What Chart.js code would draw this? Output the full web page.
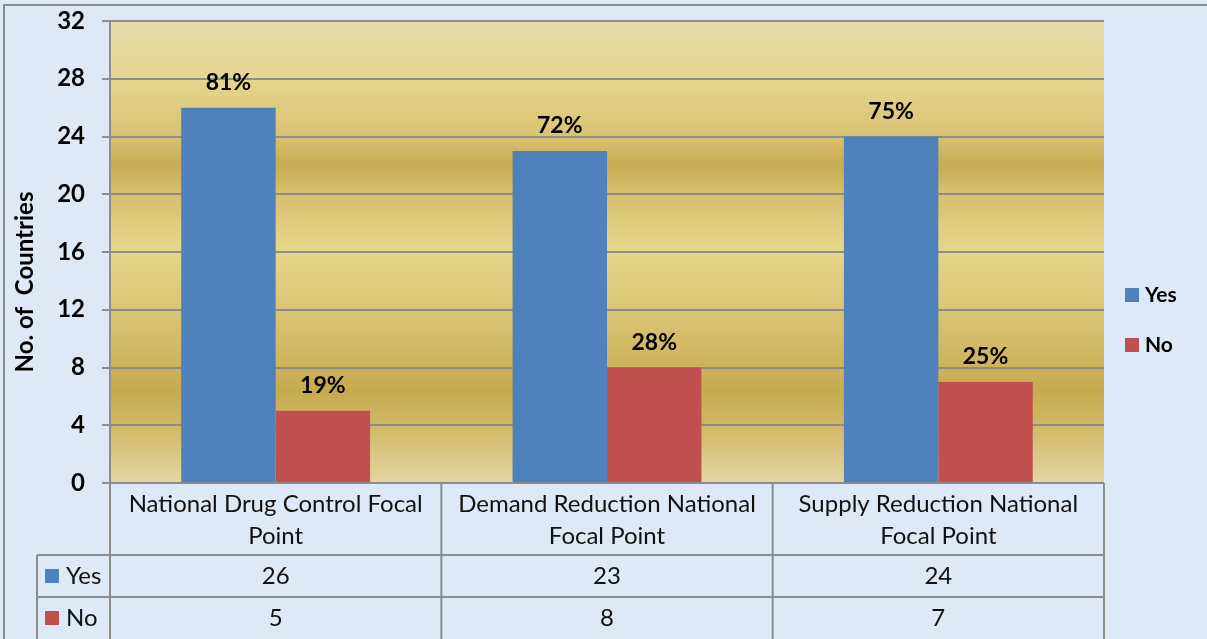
<!DOCTYPE html>
<html><head><meta charset="utf-8">
<script src="https://cdn.jsdelivr.net/npm/chart.js@4.4.0/dist/chart.umd.min.js"></script>
<style>html,body{margin:0;padding:0;background:#dde9f6;overflow:hidden}#wrap{width:1207px;height:639px;position:relative}</style>
</head><body><div id="wrap"><canvas id="c" width="1207" height="639"></canvas></div>
<script>
const categories = [["National Drug Control Focal","Point"],["Demand Reduction National","Focal Point"],["Supply Reduction National","Focal Point"]];
const seriesNames = ["Yes","No"];
const yesValues = [26,23,24];
const noValues = [5,8,7];
const yesPercent = ["81%","72%","75%"];
const noPercent = ["19%","28%","25%"];
const yTicks = [0,4,8,12,16,20,24,28,32];
const yTitle = "No. of  Countries";

const colors = ["#4f81bd","#c0504d"];
const percents = [yesPercent, noPercent];
const FONT = "Lato, 'Open Sans', sans-serif";
const GRID = "#8c8c8c";

const deco = {
  id:'deco',
  beforeDraw(chart){
    const ctx = chart.ctx, a = chart.chartArea;
    ctx.save();
    ctx.fillStyle = "#dde9f6";
    ctx.fillRect(0,0,chart.width,chart.height);
    ctx.fillStyle = GRID;
    ctx.fillRect(3,4,2,chart.height);
    ctx.fillRect(3,4,chart.width-3,2);
    const h = a.bottom - a.top;
    const g = ctx.createLinearGradient(0,a.top,0,a.bottom);
    const stops = [[0,"#e7dcab"],[0.12,"#e6d68e"],[0.25,"#d9c273"],[0.31,"#c8ab52"],[0.37,"#d6be6c"],[0.49,"#e6d68a"],[0.62,"#dac676"],[0.75,"#cdb25c"],[0.8,"#c6aa4e"],[0.88,"#d2b968"],[1,"#e2d6a2"]];
    stops.forEach(s=>g.addColorStop(s[0],s[1]));
    ctx.fillStyle = g;
    ctx.fillRect(a.left,a.top,a.right-a.left,h);
    ctx.restore();
  },
  afterDatasetsDraw(chart){
    const ctx = chart.ctx;
    ctx.save();
    ctx.font = "bold 23px " + FONT;
    ctx.fillStyle = "#000";
    ctx.textAlign = "center"; ctx.textBaseline = "middle";
    chart.data.datasets.forEach((ds,di)=>{
      chart.getDatasetMeta(di).data.forEach((bar,i)=>{
        ctx.fillText(percents[di][i], bar.x, bar.y - 25);
      });
    });
    ctx.restore();
  },
  afterDraw(chart){
    const ctx = chart.ctx, a = chart.chartArea, xs = chart.scales.x;
    const catW = (a.right - a.left)/categories.length;
    const r0 = a.bottom, r1 = 555, r2 = 597, r3 = 639, lx = 37;
    ctx.save();
    ctx.strokeStyle = GRID; ctx.lineWidth = 2;
    ctx.beginPath();
    for(let i=0;i<=categories.length;i++){
      const x = a.left + i*catW;
      ctx.moveTo(x,r0); ctx.lineTo(x,r3);
    }
    ctx.moveTo(lx,r1); ctx.lineTo(lx,r3);
    ctx.moveTo(lx,r1); ctx.lineTo(a.right,r1);
    ctx.moveTo(lx,r2); ctx.lineTo(a.right,r2);
    ctx.stroke();
    ctx.fillStyle = "#111";
    ctx.textAlign = "center"; ctx.textBaseline = "middle";
    ctx.font = "24px " + FONT;
    categories.forEach((c,i)=>{
      const cx = xs.getPixelForValue(i);
      ctx.fillText(c[0], cx, 504);
      ctx.fillText(c[1], cx, 536);
      ctx.fillText(String(yesValues[i]), cx, 576);
      ctx.fillText(String(noValues[i]), cx, 618);
    });
    ctx.textAlign = "left";
    [[576,0],[618,1]].forEach(([y,k])=>{
      ctx.fillStyle = colors[k];
      ctx.fillRect(45,y-7,14,14);
      ctx.fillStyle = "#111";
      ctx.fillText(seriesNames[k], 66, y);
    });
    // legend
    ctx.font = "bold 21px " + FONT;
    [[295,0],[345,1]].forEach(([y,k])=>{
      ctx.fillStyle = colors[k];
      ctx.fillRect(1125,y-7,14,14);
      ctx.fillStyle = "#000";
      ctx.fillText(seriesNames[k], 1145, y);
    });
    // y title
    ctx.font = "bold 24px " + FONT;
    ctx.translate(25,282); ctx.rotate(-Math.PI/2);
    ctx.textAlign = "center";
    ctx.fillText(yTitle,0,0);
    ctx.restore();
  }
};

new Chart(document.getElementById('c'),{
  type:'bar',
  data:{
    labels: categories,
    datasets:[
      {label:seriesNames[0], data:yesValues, backgroundColor:colors[0], categoryPercentage:0.57, barPercentage:1},
      {label:seriesNames[1], data:noValues, backgroundColor:colors[1], categoryPercentage:0.57, barPercentage:1}
    ]
  },
  options:{
    responsive:false, animation:false, devicePixelRatio:1,
    layout:{padding:{left:0,right:103,top:21,bottom:0}},
    plugins:{legend:{display:false}, tooltip:{enabled:false}},
    scales:{
      x:{
        ticks:{display:false}, grid:{display:false}, border:{display:false},
        afterFit(s){ s.height = 156; s.paddingLeft = 0; s.paddingRight = 0; }
      },
      y:{
        min:0, max:32,
        afterBuildTicks(s){ s.ticks = yTicks.map(v=>({value:v})); },
        ticks:{font:{family:FONT, size:24, weight:'bold'}, color:"#000", padding:17},
        grid:{color:GRID, lineWidth:2, tickLength:8},
        border:{display:true, color:GRID, width:2},
        afterFit(s){ s.width = 110; s.paddingTop = 0; s.paddingBottom = 0; }
      }
    }
  },
  plugins:[deco]
});
</script></body></html>
